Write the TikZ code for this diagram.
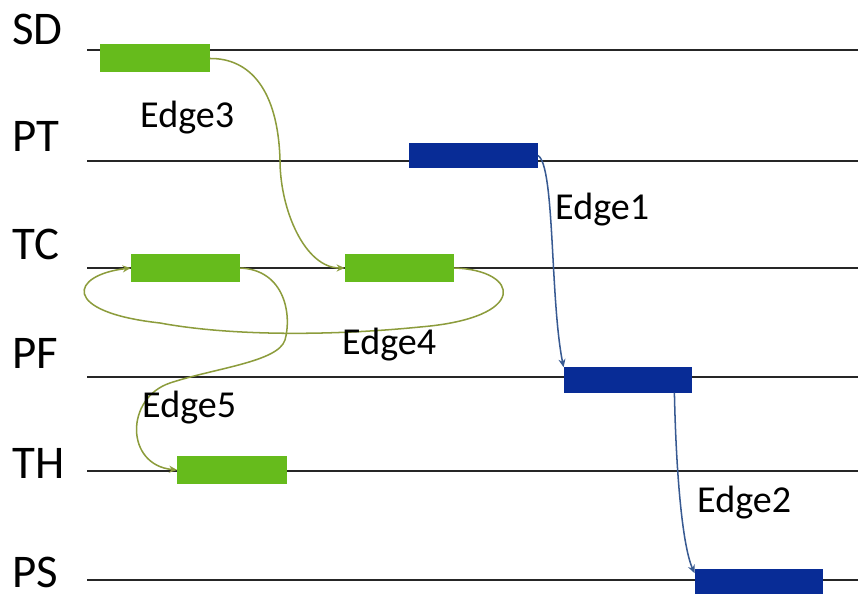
\documentclass[tikz,border=0pt]{standalone}
\usepackage{fontspec}
\setmainfont{Carlito}
\usetikzlibrary{calc,arrows.meta}
\definecolor{barg}{RGB}{102,187,28}
\definecolor{barb}{RGB}{8,44,150}
\definecolor{edgeg}{RGB}{140,156,60}
\definecolor{edgeb}{RGB}{56,90,146}

\begin{document}
\begin{tikzpicture}[x=0.03cm,y=-0.03cm,
  gbar/.style={fill=barg,minimum width=3.27cm,minimum height=0.84cm,inner sep=0pt},
  bbar/.style={fill=barb,minimum width=3.85cm,minimum height=0.75cm,inner sep=0pt},
  gedge/.style={draw=edgeg,line width=1.3pt,-{Stealth[length=7pt,width=6pt]}},
  bedge/.style={draw=edgeb,line width=1.3pt,-{Stealth[length=7pt,width=6pt]}},
  lane/.style={font=\fontsize{40}{40}\selectfont,anchor=base west,inner sep=0pt},
  lbl/.style={font=\fontsize{32.5}{32.5}\selectfont,anchor=base west,inner sep=0pt}]
\useasboundingbox (0,0) rectangle (858,595);

\foreach \n/\y/\b in {SD/50/45,PT/161/152,TC/268/260,PF/377/368,TH/471/478,PS/580/587} {
  \node[lane] (l\n) at (12,\b) {\n};
  \coordinate (s\n) at (87,\y);
  \coordinate (e\n) at (858,\y);
  \draw[line width=2.2pt,black!85] (s\n) -- (e\n);
}

\node[gbar] (sd) at (155,58.5) {};
\node[bbar] (pt) at (473.5,155.5) {};
\node[gbar] (tc1) at (185.5,268) {};
\node[gbar] (tc2) at (399.5,268) {};
\node[bbar] (pf) at (628,380) {};
\node[gbar] (th) at (232,470) {};
\node[bbar] (ps) at (759,581) {};

\draw[bedge] (pt.east) .. controls (555,165) and (550,300) .. (pf.north west);
\draw[bedge] ($(pf.south east)+(-18,0)$) .. controls (676,470) and (682,545)
  .. ($(ps.north west)+(0,5)$);
\draw[gedge] (sd.east) .. controls (250,58) and (278,90) .. (280,160)
  .. controls (280,210) and (305,268) .. (tc2.west);
\draw[gedge] (tc2.east) .. controls (520,270) and (530,318) .. (420,327)
  .. controls (330,336) and (230,336) .. (160,323)
  .. controls (60,312) and (70,275) .. (tc1.west);
\draw[gedge] (tc1.east) .. controls (285,270) and (292,315) .. (285,340)
  .. controls (278,362) and (215,368) .. (170,383)
  .. controls (125,398) and (125,465) .. (th.west);

\node[lbl] (e1) at (555,220) {Edge1};
\node[lbl] (e2) at (697,512) {Edge2};
\node[lbl] (e3) at (140,128) {Edge3};
\node[lbl] (e4) at (342,355) {Edge4};
\node[lbl] (e5) at (142,418) {Edge5};
\end{tikzpicture}
\end{document}
